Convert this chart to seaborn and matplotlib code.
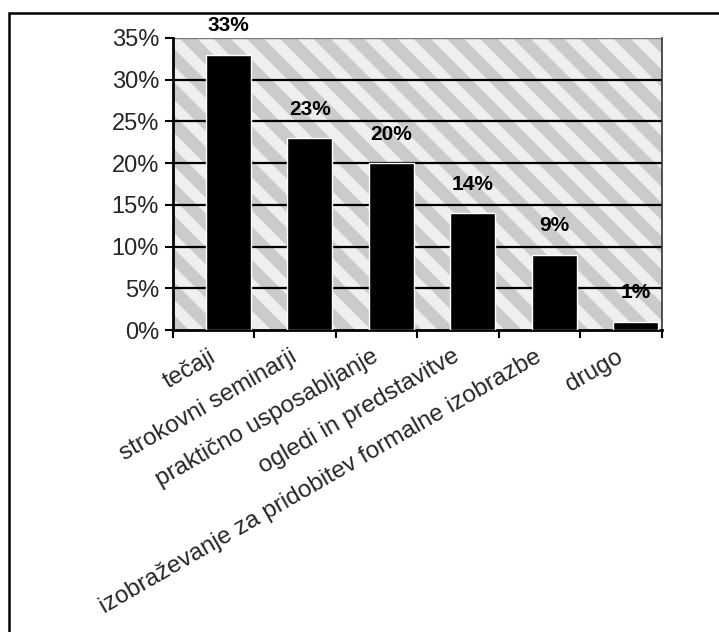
import numpy as np
import pandas as pd
import matplotlib
matplotlib.use("Agg")
import matplotlib.pyplot as plt
from matplotlib.patches import Rectangle
import seaborn as sns

# Survey answers: forms of further training and their shares (in %)
categories = [
    "tečaji",
    "strokovni seminarji",
    "praktično usposabljanje",
    "ogledi in predstavitve",
    "izobraževanje za pridobitev formalne izobrazbe",
    "drugo",
]
shares = [33, 23, 20, 14, 9, 1]
y_ticks = [0, 5, 10, 15, 20, 25, 30, 35]

df = pd.DataFrame({"oblika": categories, "delez": shares})

sns.set_theme(style="white")
plt.rcParams["font.family"] = ["Liberation Sans", "DejaVu Sans"]
plt.rcParams["hatch.linewidth"] = 8
plt.rcParams["hatch.color"] = "#efefef"

fig = plt.figure(figsize=(7.19, 6.32), dpi=100)
ax = fig.add_axes([0.2406, 0.4778, 0.6801, 0.4621])

# textured grey wall behind the bars
ax.set_facecolor("#cbcbcb")
wall = Rectangle((0, 0), 1, 1, transform=ax.transAxes, facecolor="#cbcbcb",
                 edgecolor="#efefef", hatch="\\", linewidth=0, zorder=0)
ax.add_patch(wall)

sns.barplot(data=df, x="oblika", y="delez", color="black", width=0.55,
            saturation=1, ax=ax, zorder=3)

depth = 0.18  # bars sit slightly behind the category slots
ax.set_xlim(-0.5 - depth, 5.5 - depth)
ax.set_ylim(0, 35)

ax.set_yticks(y_ticks, [f"{v}%" for v in y_ticks])
for v in y_ticks[1:-1]:
    ax.axhline(v, color="black", lw=1.6, zorder=1)
ax.axhline(35, color="#777777", lw=1.0, zorder=1)

for c in ax.containers:
    ax.bar_label(c, labels=[f"{v}%" for v in shares], padding=14,
                 fontsize=15, fontweight="bold", color="black", zorder=5)

# category labels at slot centres, tick marks at slot boundaries
ax.set_xticks(np.arange(len(categories)) - depth, categories)
ax.set_xticks(np.arange(len(categories) + 1) - 0.5 - depth, minor=True)
ax.tick_params(axis="x", which="major", length=0, pad=18, labelsize=17.5)
ax.tick_params(axis="x", which="minor", length=6, width=1.5, color="black",
               direction="out", bottom=True)
ax.tick_params(axis="y", length=6, width=1.5, color="black", direction="out",
               left=True, labelsize=17, pad=4)
for lab in ax.get_xticklabels():
    lab.set_rotation(30)
    lab.set_ha("right")
    lab.set_va("center")
    lab.set_rotation_mode("anchor")

ax.set_xlabel("")
ax.set_ylabel("")
for side in ["left", "bottom"]:
    ax.spines[side].set_color("black")
    ax.spines[side].set_linewidth(2)
ax.spines["right"].set_color("#333333")
ax.spines["right"].set_linewidth(1.2)
ax.spines["top"].set_visible(False)
ax.grid(False)

# outer chart border
fig.add_artist(Rectangle((9 / 719, -0.05), 1.2, 1 - 13 / 632 + 0.05,
                         transform=fig.transFigure, fill=False,
                         edgecolor="black", linewidth=1.8))

fig.savefig("out.png", dpi=100)
